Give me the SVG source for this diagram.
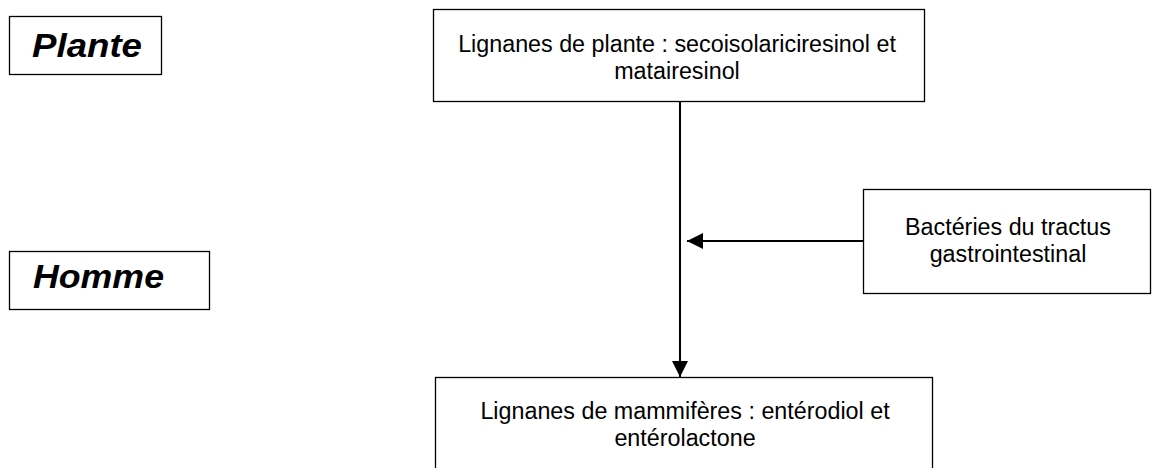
<svg xmlns="http://www.w3.org/2000/svg" width="1152" height="468" viewBox="0 0 1152 468">
<style>
.box{fill:#fff;stroke:#000;stroke-width:1.3}
.t{font-family:"Liberation Sans",Arial,sans-serif;font-size:23.3px;fill:#000;text-anchor:middle}
.big{font-family:"Liberation Sans",Arial,sans-serif;font-size:34px;font-weight:bold;font-style:italic;fill:#000}
.con{stroke:#000;stroke-width:2;fill:none}
</style>
<defs>
<marker id="ah" markerUnits="userSpaceOnUse" markerWidth="16" markerHeight="16" viewBox="0 0 16 16" refX="16" refY="8" orient="auto">
<path d="M0,0 L16,8 L0,16 Z" fill="#000"/>
</marker>
</defs>
<rect width="1152" height="468" fill="#fff"/>
<g id="plante">
<rect class="box" x="9.5" y="16.5" width="152" height="58"/>
<text class="big" x="32" y="57" textLength="110" lengthAdjust="spacingAndGlyphs">Plante</text>
</g>
<g id="homme">
<rect class="box" x="9.5" y="251.5" width="200" height="58"/>
<text class="big" x="33" y="288" textLength="131" lengthAdjust="spacingAndGlyphs">Homme</text>
</g>
<g id="lignanes-plante">
<rect class="box" x="433.5" y="9.5" width="491" height="92"/>
<text class="t" x="677" y="52">Lignanes de plante : secoisolariciresinol et</text>
<text class="t" x="677" y="79">matairesinol</text>
</g>
<g id="bacteries">
<rect class="box" x="863.5" y="189.5" width="287" height="104"/>
<text class="t" x="1008" y="235">Bactéries du tractus</text>
<text class="t" x="1008" y="262">gastrointestinal</text>
</g>
<g id="lignanes-mammiferes">
<rect class="box" x="435.5" y="377.5" width="497" height="100"/>
<text class="t" x="685" y="419">Lignanes de mammifères : entérodiol et</text>
<text class="t" x="685" y="446">entérolactone</text>
</g>
<g id="connectors">
<line class="con" x1="680" y1="102" x2="680" y2="377" marker-end="url(#ah)"/>
<line class="con" x1="863" y1="241" x2="687" y2="241" marker-end="url(#ah)"/>
</g>
</svg>
